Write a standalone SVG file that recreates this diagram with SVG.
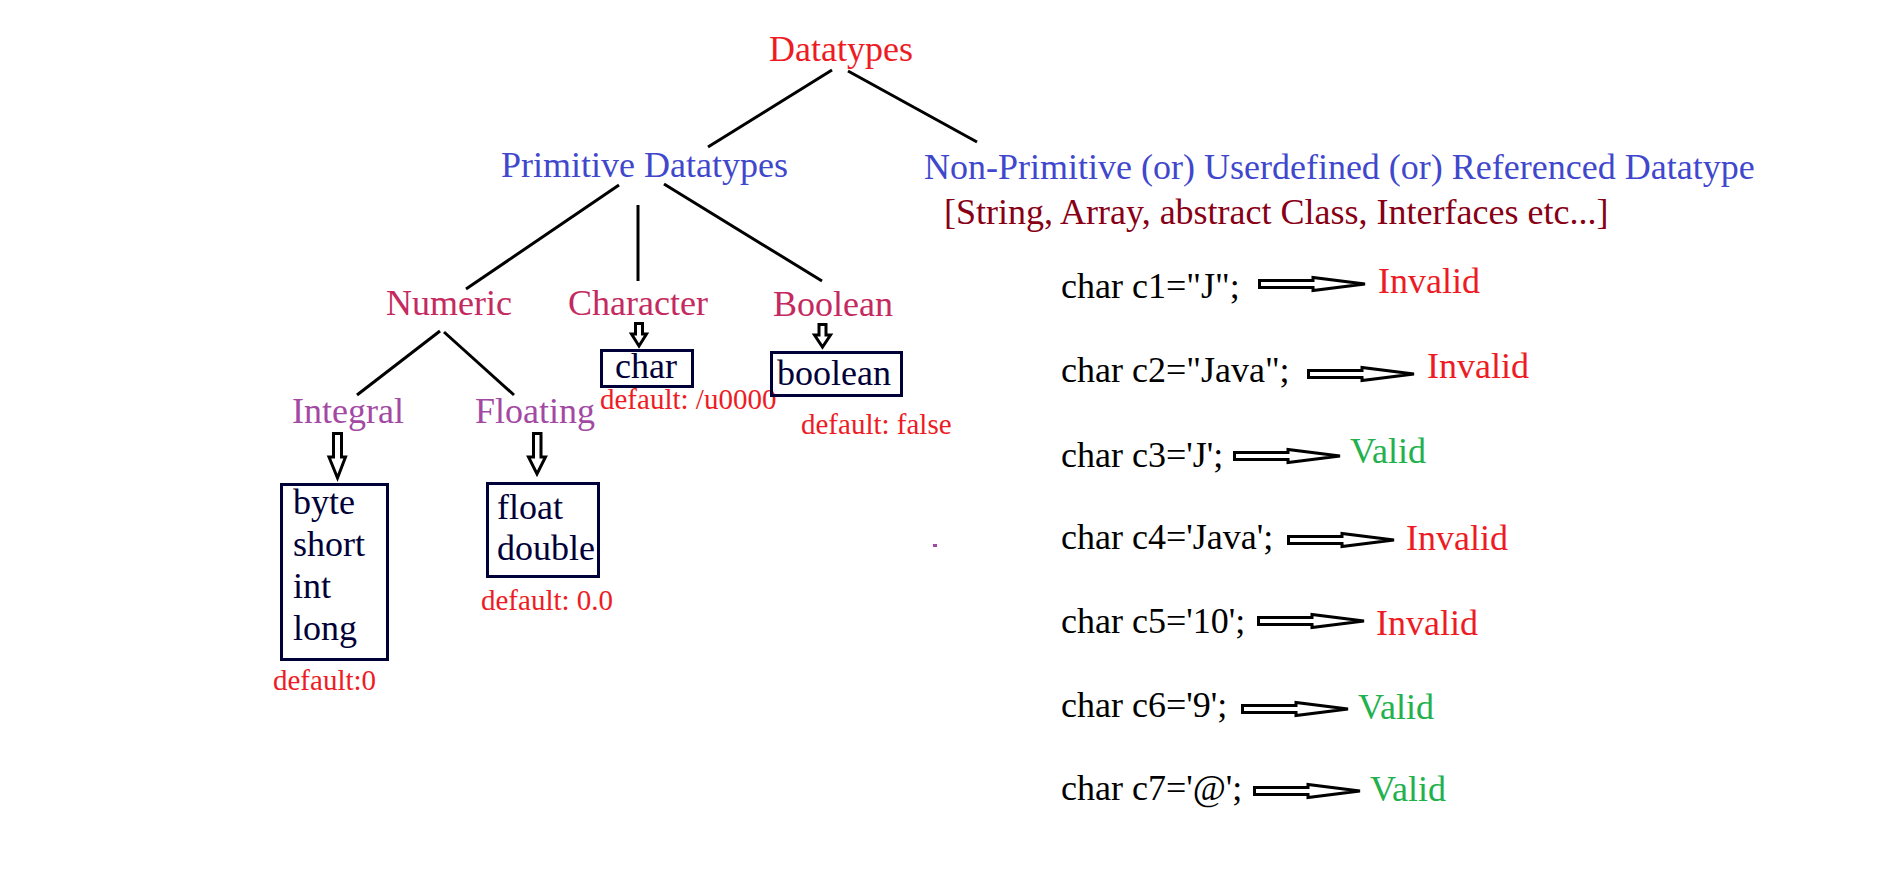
<svg xmlns="http://www.w3.org/2000/svg" width="1879" height="895" viewBox="0 0 1879 895">
<style>
text{font-family:"Liberation Serif","Times New Roman",serif;font-size:36px}
.red{fill:#ed1c24}
.blue{fill:#3f48cc}
.dred{fill:#880015}
.rose{fill:#c42a60}
.purp{fill:#a349a4}
.navy{fill:#000038}
.blk{fill:#000}
.grn{fill:#22b14c}
.def{fill:#ed1c24;font-size:29px}
.box{fill:none;stroke:#000038;stroke-width:3}
.conn line{stroke:#000;stroke-width:3}
.arr{fill:#fff;stroke:#000;stroke-width:3;stroke-linejoin:miter;stroke-miterlimit:4}
</style>
<defs>
<polygon id="harr" class="arr" points="1.5,-3.5 55,-3.5 55,-6.5 107,0 55,6.5 55,3.5 1.5,3.5"/>
</defs>
<rect width="1879" height="895" fill="#fff"/>
<g id="connectors" class="conn">
<line x1="832" y1="70" x2="708" y2="147"/>
<line x1="848" y1="71" x2="977" y2="142"/>
<line x1="619" y1="185" x2="466" y2="289"/>
<line x1="638" y1="205" x2="638" y2="281"/>
<line x1="664" y1="184" x2="822" y2="281"/>
<line x1="440" y1="331" x2="357" y2="395"/>
<line x1="444" y1="332" x2="514" y2="395"/>
<polygon class="arr" points="635.5,323.5 642.5,323.5 642.5,334 646.5,334 639,346 631.5,334 635.5,334"/>
<polygon class="arr" points="819,324.5 826,324.5 826,335 830.5,335 822.5,347 814.5,335 819,335"/>
<polygon class="arr" points="333.5,433.5 341.5,433.5 341.5,457 345.5,457 337.5,478 329,457 333.5,457"/>
<polygon class="arr" points="533.5,433.5 541,433.5 541,457 545.5,457 537,474 528.5,457 533.5,457"/>
</g>
<g id="datatypes"><text class="red" x="769" y="61">Datatypes</text></g>
<g id="primitive"><text class="blue" x="501" y="177">Primitive Datatypes</text></g>
<g id="nonprimitive">
<text class="blue" x="924" y="179">Non-Primitive (or) Userdefined (or) Referenced Datatype</text>
<text class="dred" x="944" y="224">[String, Array, abstract Class, Interfaces etc...]</text>
</g>
<g id="numeric"><text class="rose" x="386" y="315">Numeric</text></g>
<g id="character"><text class="rose" x="568" y="315">Character</text></g>
<g id="boolean"><text class="rose" x="773" y="316">Boolean</text></g>
<g id="integral"><text class="purp" x="292" y="423">Integral</text></g>
<g id="floating"><text class="purp" x="475" y="423">Floating</text></g>
<g id="charbox">
<rect class="box" x="601.5" y="350.5" width="91" height="36"/>
<text class="navy" x="615" y="378">char</text>
<text class="def" x="600" y="409">default: /u0000</text>
</g>
<g id="booleanbox">
<rect class="box" x="771.5" y="352.5" width="130" height="43"/>
<text class="navy" x="777" y="385">boolean</text>
<text class="def" x="801" y="434">default: false</text>
</g>
<g id="integralbox">
<rect class="box" x="281.5" y="484.5" width="106" height="175"/>
<text class="navy" x="293" y="514">byte</text>
<text class="navy" x="293" y="556">short</text>
<text class="navy" x="293" y="598">int</text>
<text class="navy" x="293" y="640">long</text>
<text class="def" x="273" y="690">default:0</text>
</g>
<g id="floatingbox">
<rect class="box" x="487.5" y="483.5" width="111" height="93"/>
<text class="navy" x="497" y="519">float</text>
<text class="navy" x="497" y="560">double</text>
<text class="def" x="481" y="610">default: 0.0</text>
</g>
<rect x="933" y="544" width="4" height="3" fill="#a349a4"/>
<g id="examples">
<g id="c1"><text class="blk" x="1061" y="298">char c1="J";</text><use href="#harr" x="1258" y="284"/><text class="red" x="1378" y="293">Invalid</text></g>
<g id="c2"><text class="blk" x="1061" y="382">char c2="Java";</text><use href="#harr" x="1307" y="374"/><text class="red" x="1427" y="378">Invalid</text></g>
<g id="c3"><text class="blk" x="1061" y="467">char c3='J';</text><use href="#harr" x="1233" y="456"/><text class="grn" x="1350" y="463">Valid</text></g>
<g id="c4"><text class="blk" x="1061" y="549">char c4='Java';</text><use href="#harr" x="1287" y="540"/><text class="red" x="1406" y="550">Invalid</text></g>
<g id="c5"><text class="blk" x="1061" y="633">char c5='10';</text><use href="#harr" x="1257" y="621"/><text class="red" x="1376" y="635">Invalid</text></g>
<g id="c6"><text class="blk" x="1061" y="717">char c6='9';</text><use href="#harr" x="1241" y="709"/><text class="grn" x="1358" y="719">Valid</text></g>
<g id="c7"><text class="blk" x="1061" y="800">char c7='@';</text><use href="#harr" x="1253" y="791"/><text class="grn" x="1370" y="801">Valid</text></g>
</g>
</svg>
